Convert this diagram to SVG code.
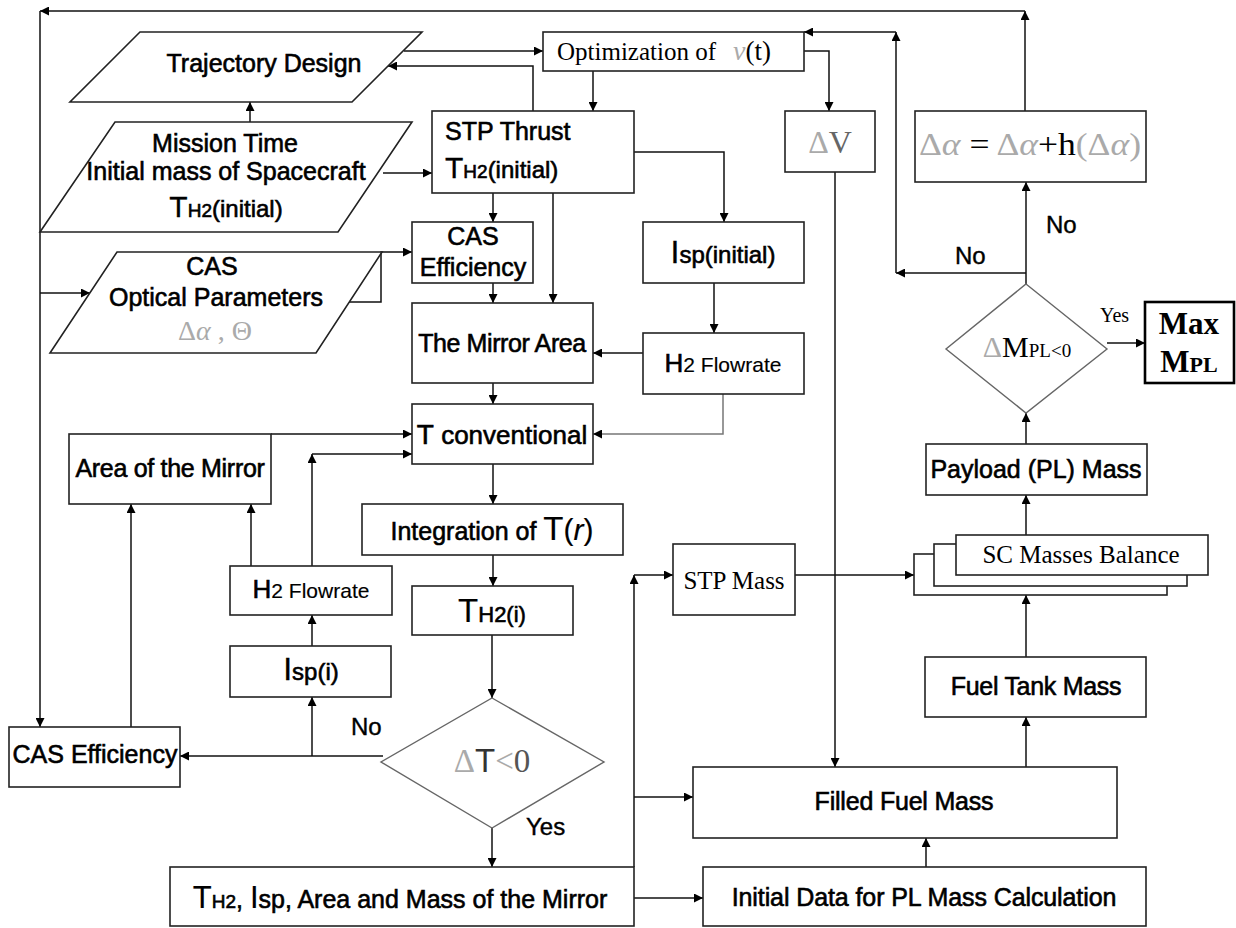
<svg xmlns="http://www.w3.org/2000/svg" width="1236" height="928" viewBox="0 0 1236 928">
<style>
.b{fill:#fff;stroke:#222;stroke-width:1.6}
.d{fill:#fff;stroke:#666;stroke-width:1.4}
.c{fill:none;stroke:#111;stroke-width:1.5}
.cg{fill:none;stroke:#777;stroke-width:1.5}
.t{font-family:"Liberation Sans",Arial,sans-serif;font-size:25px;fill:#000;stroke:#000;stroke-width:0.6}
.s{font-family:"Liberation Serif","Times New Roman",serif;font-size:25px;fill:#000}
.g{fill:#aaa;stroke:none}
</style>
<defs>
<marker id="ah" viewBox="0 0 10 10" refX="10" refY="5" markerWidth="11" markerHeight="9" markerUnits="userSpaceOnUse" orient="auto">
<path d="M0,0 L10,5 L0,10 z" fill="#000"/>
</marker>
</defs>

<g id="connectors">
<path class="c" d="M1025,111 V11" marker-end="url(#ah)"/>
<path class="c" d="M1025,11 H40" marker-end="url(#ah)"/>
<path class="c" d="M40,11 V727" marker-end="url(#ah)"/>
<path class="c" d="M40,293 H90" marker-end="url(#ah)"/>
<path class="c" d="M250,122 V102" marker-end="url(#ah)"/>
<path class="c" d="M383,173 H432" marker-end="url(#ah)"/>
<path class="c" d="M404,51 H543" marker-end="url(#ah)"/>
<path class="c" d="M533,111 V66 H388" marker-end="url(#ah)"/>
<path class="c" d="M593,71 V111" marker-end="url(#ah)"/>
<path class="c" d="M804,51 H829 V111" marker-end="url(#ah)"/>
<path class="c" d="M1026,273 H896" marker-end="url(#ah)"/>
<path class="c" d="M896,273 V32" marker-end="url(#ah)"/>
<path class="c" d="M896,32 H804" marker-end="url(#ah)"/>
<path class="c" d="M1026,284 V182" marker-end="url(#ah)"/>
<path class="c" d="M1107,343 H1145" marker-end="url(#ah)"/>
<path class="c" d="M1026,444 V413" marker-end="url(#ah)"/>
<path class="c" d="M1026,535 V495" marker-end="url(#ah)"/>
<path class="c" d="M1026,657 V595" marker-end="url(#ah)"/>
<path class="c" d="M1026,767 V717" marker-end="url(#ah)"/>
<path class="c" d="M926,867 V838" marker-end="url(#ah)"/>
<path class="c" d="M835,172 V767" marker-end="url(#ah)"/>
<path class="c" d="M795,575 H914" marker-end="url(#ah)"/>
<path class="c" d="M634,867 V575" marker-end="url(#ah)"/>
<path class="c" d="M634,575 H673" marker-end="url(#ah)"/>
<path class="c" d="M634,797 H693" marker-end="url(#ah)"/>
<path class="c" d="M634,898 H703" marker-end="url(#ah)"/>
<path class="c" d="M493,193 V222" marker-end="url(#ah)"/>
<path class="c" d="M553,193 V303" marker-end="url(#ah)"/>
<path class="c" d="M493,283 V303" marker-end="url(#ah)"/>
<path class="c" d="M634,152 H724 V222" marker-end="url(#ah)"/>
<path class="c" d="M714,283 V333" marker-end="url(#ah)"/>
<path class="c" d="M643,353 H593" marker-end="url(#ah)"/>
<path class="cg" d="M723,394 V434 H593" marker-end="url(#ah)"/>
<path class="c" d="M493,383 V404" marker-end="url(#ah)"/>
<path class="c" d="M271,434 H412" marker-end="url(#ah)"/>
<path class="c" d="M312,566 V454" marker-end="url(#ah)"/>
<path class="c" d="M312,454 H412" marker-end="url(#ah)"/>
<path class="c" d="M251,566 V504" marker-end="url(#ah)"/>
<path class="c" d="M131,727 V504" marker-end="url(#ah)"/>
<path class="c" d="M493,464 V504" marker-end="url(#ah)"/>
<path class="c" d="M493,555 V586" marker-end="url(#ah)"/>
<path class="c" d="M492,635 V698" marker-end="url(#ah)"/>
<path class="c" d="M383,756 H180" marker-end="url(#ah)"/>
<path class="c" d="M312,756 V697" marker-end="url(#ah)"/>
<path class="c" d="M312,646 V615" marker-end="url(#ah)"/>
<path class="c" d="M492,828 V867" marker-end="url(#ah)"/>
<path class="c" d="M349,302 H381 V252 H412" marker-end="url(#ah)"/>
</g>

<g id="trajectory">
<polygon class="b" points="140,32 422,32 352,102 70,102"/>
<text class="t" x="264" y="72" text-anchor="middle">Trajectory Design</text>
</g>
<g id="mission">
<polygon class="b" points="115,122 412,122 338,232 40,232"/>
<text class="t" x="225" y="152" text-anchor="middle">Mission Time</text>
<text class="t" x="226" y="180" text-anchor="middle">Initial mass of Spacecraft</text>
<text class="t" x="226" y="217" text-anchor="middle"><tspan font-size="30" stroke-width="0.3">T</tspan><tspan font-size="19">H2</tspan><tspan font-size="24">(initial)</tspan></text>
</g>
<g id="cas-params">
<polygon class="b" points="117,252 382,252 316,353 50,353"/>
<text class="t" x="212" y="275" text-anchor="middle">CAS</text>
<text class="t" x="216" y="306" text-anchor="middle">Optical Parameters</text>
<text class="s g" x="215" y="340" text-anchor="middle" style="font-size:28px">Δ<tspan font-style="italic">α</tspan> , Θ</text>
</g>
<g id="optimization">
<rect class="b" x="543" y="32" width="261" height="39"/>
<text class="s" x="557" y="60">Optimization of <tspan x="733" class="g" font-style="italic" font-size="28">ν</tspan><tspan font-size="27">(t)</tspan></text>
</g>
<g id="stp-thrust">
<rect class="b" x="432" y="111" width="202" height="82"/>
<text class="t" x="445" y="140">STP Thrust</text>
<text class="t" x="445" y="178"><tspan font-size="30" stroke-width="0.3">T</tspan><tspan font-size="19">H2</tspan><tspan font-size="24">(initial)</tspan></text>
</g>
<g id="delta-v">
<rect class="b" x="785" y="111" width="90" height="61"/>
<text class="s" x="830" y="153" text-anchor="middle" style="font-size:32px"><tspan class="g">Δ</tspan><tspan fill="#666">V</tspan></text>
</g>
<g id="alpha-update">
<rect class="b" x="915" y="111" width="231" height="71"/>
<text class="s" x="1030" y="155" text-anchor="middle" style="font-size:31px" textLength="222" lengthAdjust="spacingAndGlyphs"><tspan class="g">Δ<tspan font-style="italic">α</tspan></tspan> = <tspan class="g">Δ<tspan font-style="italic">α</tspan></tspan>+h<tspan class="g">(Δ<tspan font-style="italic">α</tspan>)</tspan></text>
</g>
<g id="cas-eff-1">
<rect class="b" x="412" y="222" width="121" height="61"/>
<text class="t" x="473" y="245" text-anchor="middle">CAS</text>
<text class="t" x="473" y="276" text-anchor="middle">Efficiency</text>
</g>
<g id="isp-initial">
<rect class="b" x="643" y="222" width="161" height="61"/>
<text class="t" x="723" y="263" text-anchor="middle"><tspan font-size="32" stroke-width="0.3">I</tspan><tspan font-size="24">sp(initial)</tspan></text>
</g>
<g id="mirror-area">
<rect class="b" x="412" y="303" width="181" height="80"/>
<text class="t" x="502" y="352" text-anchor="middle" letter-spacing="-0.4">The Mirror Area</text>
</g>
<g id="h2-flow-1">
<rect class="b" x="643" y="333" width="161" height="61"/>
<text class="t" x="723" y="372" text-anchor="middle"><tspan font-size="26">H</tspan><tspan font-size="21" stroke-width="0.15">2 Flowrate</tspan></text>
</g>
<g id="t-conv">
<rect class="b" x="412" y="404" width="181" height="60"/>
<text class="t" x="502" y="444" text-anchor="middle" style="font-size:26px"><tspan font-size="28">T</tspan> conventional</text>
</g>
<g id="area-mirror">
<rect class="b" x="69" y="434" width="202" height="70"/>
<text class="t" x="170" y="477" text-anchor="middle" letter-spacing="-0.3">Area of the Mirror</text>
</g>
<g id="integration">
<rect class="b" x="362" y="504" width="261" height="51"/>
<text class="t" x="492" y="540" text-anchor="middle">Integration of <tspan font-size="33" stroke-width="0.15">T</tspan><tspan font-size="30" stroke-width="0.15">(<tspan font-style="italic">r</tspan>)</tspan></text>
</g>
<g id="h2-flow-2">
<rect class="b" x="230" y="566" width="162" height="49"/>
<text class="t" x="311" y="598" text-anchor="middle"><tspan font-size="26">H</tspan><tspan font-size="21" stroke-width="0.15">2 Flowrate</tspan></text>
</g>
<g id="th2-i">
<rect class="b" x="412" y="586" width="161" height="49"/>
<text class="t" x="492" y="622" text-anchor="middle"><tspan font-size="33" stroke-width="0.15">T</tspan><tspan font-size="22">H2(i)</tspan></text>
</g>
<g id="isp-i">
<rect class="b" x="230" y="646" width="161" height="51"/>
<text class="t" x="311" y="680" text-anchor="middle"><tspan font-size="32" stroke-width="0.3">I</tspan><tspan font-size="24">sp(i)</tspan></text>
</g>
<g id="cas-eff-2">
<rect class="b" x="9" y="727" width="171" height="60"/>
<text class="t" x="95" y="763" text-anchor="middle">CAS Efficiency</text>
</g>
<g id="dec-t">
<polygon class="d" points="492,698 604,762 492,828 381,762"/>
<text x="492" y="772" text-anchor="middle" font-size="33" font-family="Liberation Serif, serif"><tspan class="g">Δ</tspan><tspan font-family="Liberation Sans, sans-serif" fill="#333">T</tspan><tspan class="g">&lt;</tspan><tspan fill="#555">0</tspan></text>
<text class="t" x="351" y="735" style="font-size:24px;stroke-width:0.4">No</text>
<text class="t" x="526" y="835" style="font-size:24px;stroke-width:0.4">Yes</text>
</g>
<g id="th2-final">
<rect class="b" x="170" y="867" width="464" height="59"/>
<text class="t" x="400" y="908" text-anchor="middle"><tspan font-size="31" stroke-width="0.15">T</tspan><tspan font-size="19">H2</tspan>, <tspan font-size="31" stroke-width="0.15">I</tspan>sp, Area and Mass of the Mirror</text>
</g>
<g id="stp-mass">
<rect class="b" x="673" y="544" width="122" height="71"/>
<text class="s" x="734" y="589" text-anchor="middle">STP Mass</text>
</g>
<g id="sc-balance">
<rect class="b" x="914" y="554" width="253" height="41"/>
<rect class="b" x="934" y="544" width="253" height="42"/>
<rect class="b" x="956" y="535" width="252" height="40"/>
<text class="s" x="1081" y="563" text-anchor="middle">SC Masses Balance</text>
</g>
<g id="payload">
<rect class="b" x="926" y="444" width="221" height="51"/>
<text class="t" x="1036" y="478" text-anchor="middle">Payload (PL) Mass</text>
</g>
<g id="fuel-tank">
<rect class="b" x="925" y="657" width="221" height="60"/>
<text class="t" x="1036" y="695" text-anchor="middle" letter-spacing="-0.3">Fuel Tank Mass</text>
</g>
<g id="filled-fuel">
<rect class="b" x="693" y="767" width="424" height="71"/>
<text class="t" x="904" y="810" text-anchor="middle" letter-spacing="-0.2">Filled Fuel Mass</text>
</g>
<g id="initial-data">
<rect class="b" x="703" y="867" width="443" height="59"/>
<text class="t" x="924" y="906" text-anchor="middle" letter-spacing="-0.1">Initial Data for PL Mass Calculation</text>
</g>
<g id="dec-pl">
<polygon class="d" points="1026,284 1107,349 1026,413 946,349"/>
<text class="s" x="1027" y="357" text-anchor="middle" style="font-size:30px"><tspan class="g">Δ</tspan>M<tspan font-size="19">PL&lt;0</tspan></text>
<text class="t" x="1046" y="233" style="font-size:24px;stroke-width:0.4">No</text>
<text class="t" x="955" y="264" style="font-size:24px;stroke-width:0.4">No</text>
<text class="s" x="1100" y="322" style="font-size:20px">Yes</text>
</g>
<g id="max-pl">
<rect x="1145" y="302" width="89" height="81" fill="#fff" stroke="#000" stroke-width="2.6"/>
<text class="s" x="1189" y="334" text-anchor="middle" style="font-size:31px;font-weight:bold">Max</text>
<text class="s" x="1189" y="372" text-anchor="middle" style="font-size:31px;font-weight:bold">M<tspan font-size="22">PL</tspan></text>
</g>
</svg>
